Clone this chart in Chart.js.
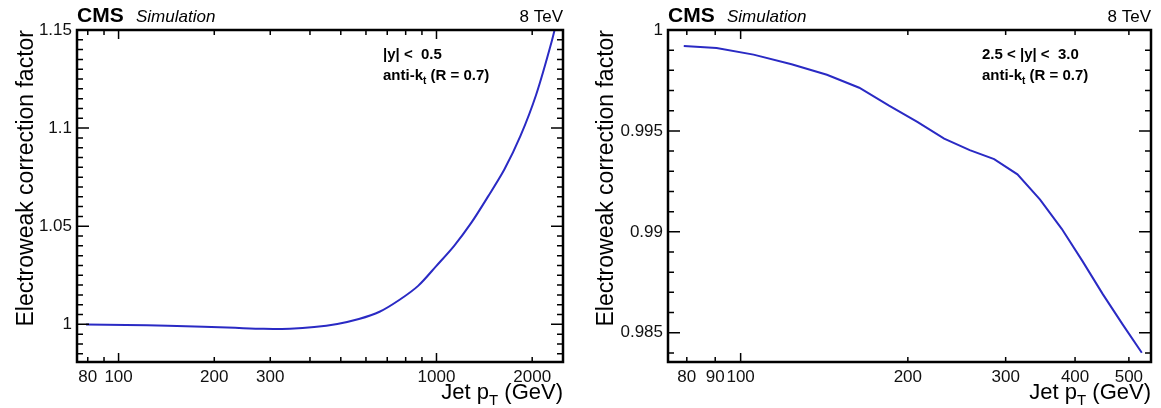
<!DOCTYPE html>
<html>
<head>
<meta charset="utf-8">
<script src="https://cdn.jsdelivr.net/npm/chart.js@4.4.1/dist/chart.umd.min.js"></script>
<style>
  html, body { margin: 0; padding: 0; background: #fff; }
  #wrap { position: relative; width: 1161px; height: 408px; }
  canvas { position: absolute; top: 0; }
</style>
</head>
<body>
<div id="wrap">
  <canvas id="central" width="580" height="408" style="left:0"></canvas>
  <canvas id="forward" width="581" height="408" style="left:580px"></canvas>
</div>
<script>
// |y| < 0.5
const ptCentral = [79, 105.5, 143, 185, 232.5, 286, 346, 412.5, 487.5, 570, 662, 763.5, 875.5, 999.5, 1136.5, 1287.5, 1453.5, 1636, 1837, 2058, 2302, 2433];
const ewkCentral = [0.9999, 0.9997, 0.9993, 0.9988, 0.9982, 0.9977, 0.9978, 0.9986, 1.0002, 1.0027, 1.0064, 1.0124, 1.0196, 1.0298, 1.0400, 1.0518, 1.0652, 1.0790, 1.0960, 1.1170, 1.1440, 1.1600];
const xLabelsCentral = [80, 100, 200, 300, 1000, 2000];
const xMajorCentral = [100, 1000];
const xMinorCentral = [80, 90, 200, 300, 400, 500, 600, 700, 800, 900, 2000];
const yLabelsCentral = [1, 1.05, 1.1, 1.15];

// 2.5 < |y| < 3.0
const ptForward = [79, 90.5, 105.5, 123.5, 143, 163.5, 185, 208, 232.5, 258.5, 286, 315, 346, 378.5, 412.5, 449, 487.5, 527.5];
const ewkForward = [0.99921, 0.99911, 0.99878, 0.99830, 0.99778, 0.99714, 0.99625, 0.99545, 0.99462, 0.99405, 0.99360, 0.99285, 0.99160, 0.99015, 0.98855, 0.98690, 0.98540, 0.98401];
const xLabelsForward = [80, 90, 100, 200, 300, 400, 500];
const xMajorForward = [100];
const xMinorForward = [80, 90, 200, 300, 400, 500];
const yLabelsForward = [0.985, 0.99, 0.995, 1];

const FONT = '"Liberation Sans", Arial, Helvetica, sans-serif';
const lineColor = '#2a2ac4';

// draws text made of pieces (for subscripts), anchored left or right
function drawPieces(ctx, pieces, x, y, align) {
  let w = 0;
  pieces.forEach(p => { ctx.font = p.font; w += ctx.measureText(p.t).width; });
  let cx = align === 'right' ? x - w : x;
  ctx.textAlign = 'left';
  pieces.forEach(p => {
    ctx.font = p.font;
    ctx.fillText(p.t, cx, y + (p.dy || 0));
    cx += ctx.measureText(p.t).width;
  });
}

const rootFrame = {
  id: 'rootFrame',
  afterDraw(chart, args, o) {
    const { ctx, chartArea: a, scales: { x, y } } = chart;
    ctx.save();
    ctx.strokeStyle = '#000';
    ctx.lineWidth = 1.5;
    ctx.beginPath();
    const xt = (v, len) => {
      const px = x.getPixelForValue(v);
      ctx.moveTo(px, a.bottom); ctx.lineTo(px, a.bottom - len);
      ctx.moveTo(px, a.top); ctx.lineTo(px, a.top + len);
    };
    const yt = (v, len) => {
      const py = y.getPixelForValue(v);
      ctx.moveTo(a.left, py); ctx.lineTo(a.left + len, py);
      ctx.moveTo(a.right, py); ctx.lineTo(a.right - len, py);
    };
    o.xMajor.forEach(v => xt(v, 9));
    o.xMinor.forEach(v => xt(v, 5));
    const n = Math.round((y.max - y.min) / o.yMinorStep) + 2;
    const first = Math.ceil(y.min / o.yMinorStep - 1e-6);
    for (let i = 0; i < n; i++) {
      const v = (first + i) * o.yMinorStep;
      if (v > y.max + 1e-9) break;
      const isMajor = o.yMajor.some(m => Math.abs(m - v) < o.yMinorStep / 10);
      yt(v, isMajor ? 12 : 6);
    }
    ctx.stroke();
    ctx.lineWidth = 2.5;
    ctx.strokeRect(a.left, a.top, a.right - a.left, a.bottom - a.top);

    ctx.fillStyle = '#000';
    ctx.textBaseline = 'alphabetic';
    // CMS Simulation / 8 TeV
    ctx.textAlign = 'left';
    ctx.font = 'bold 21px ' + FONT;
    ctx.fillText('CMS', a.left, 22);
    ctx.font = 'italic 17px ' + FONT;
    ctx.fillText('Simulation', a.left + 59, 22);
    ctx.textAlign = 'right';
    ctx.font = '17px ' + FONT;
    ctx.fillText('8 TeV', a.right, 22);

    // region and algorithm
    ctx.textAlign = 'left';
    ctx.font = 'bold 15px ' + FONT;
    ctx.fillText(o.region, o.textX, 59);
    drawPieces(ctx, [
      { t: 'anti-k', font: 'bold 15px ' + FONT },
      { t: 't', font: 'bold 10px ' + FONT, dy: 4 },
      { t: ' (R = 0.7)', font: 'bold 15px ' + FONT }
    ], o.textX, 80, 'left');

    // x title
    drawPieces(ctx, [
      { t: 'Jet p', font: '22px ' + FONT },
      { t: 'T', font: '15px ' + FONT, dy: 6 },
      { t: ' (GeV)', font: '22px ' + FONT }
    ], a.right, 399, 'right');

    // y title
    ctx.save();
    ctx.translate(33, a.top);
    ctx.rotate(-Math.PI / 2);
    ctx.textAlign = 'right';
    ctx.font = '23px ' + FONT;
    ctx.fillText('Electroweak correction factor', 0, 0);
    ctx.restore();

    ctx.restore();
  }
};

function makeChart(id, c) {
  return new Chart(document.getElementById(id), {
    type: 'line',
    data: {
      datasets: [{
        data: c.pt.map((p, i) => ({ x: p, y: c.ewk[i] })),
        borderColor: lineColor,
        borderWidth: 2,
        pointRadius: 0,
        fill: false,
        tension: c.tension,
        clip: 0
      }]
    },
    options: {
      responsive: false,
      animation: false,
      devicePixelRatio: 1,
      layout: { padding: { left: 0, right: c.padRight, top: 30, bottom: 0 } },
      plugins: {
        legend: { display: false },
        tooltip: { enabled: false },
        rootFrame: {
          xMajor: c.xMajor, xMinor: c.xMinor,
          yMajor: c.yLabels, yMinorStep: c.yMinorStep,
          region: c.region, textX: c.textX
        }
      },
      scales: {
        x: {
          type: 'logarithmic',
          min: c.xMin, max: c.xMax,
          grid: { display: false, drawTicks: false },
          border: { display: false },
          afterBuildTicks: s => { s.ticks = c.xLabels.map(v => ({ value: v })); },
          afterFit: s => { s.height = 46; },
          ticks: {
            autoSkip: false, maxRotation: 0, padding: 5, color: '#111',
            font: { family: FONT, size: 17 },
            callback: v => String(v)
          }
        },
        y: {
          type: 'linear',
          min: c.yMin, max: c.yMax,
          grid: { display: false, drawTicks: false },
          border: { display: false },
          afterBuildTicks: s => { s.ticks = c.yLabels.map(v => ({ value: v })); },
          afterFit: s => { s.width = c.yAxisWidth; },
          ticks: {
            padding: 5, color: '#111',
            font: { family: FONT, size: 17 },
            callback: v => String(v)
          }
        }
      }
    },
    plugins: [rootFrame]
  });
}

makeChart('central', {
  pt: ptCentral, ewk: ewkCentral, tension: 0.3,
  xMin: 74, xMax: 2500, yMin: 0.9808, yMax: 1.15,
  xLabels: xLabelsCentral, xMajor: xMajorCentral, xMinor: xMinorCentral,
  yLabels: yLabelsCentral, yMinorStep: 0.005,
  yAxisWidth: 77, padRight: 17,
  region: '|y| <  0.5', textX: 383
});

makeChart('forward', {
  pt: ptForward, ewk: ewkForward, tension: 0,
  xMin: 74, xMax: 548, yMin: 0.98355, yMax: 1.0,
  xLabels: xLabelsForward, xMajor: xMajorForward, xMinor: xMinorForward,
  yLabels: yLabelsForward, yMinorStep: 0.001,
  yAxisWidth: 88, padRight: 10,
  region: '2.5 < |y| <  3.0', textX: 402
});
</script>
</body>
</html>
